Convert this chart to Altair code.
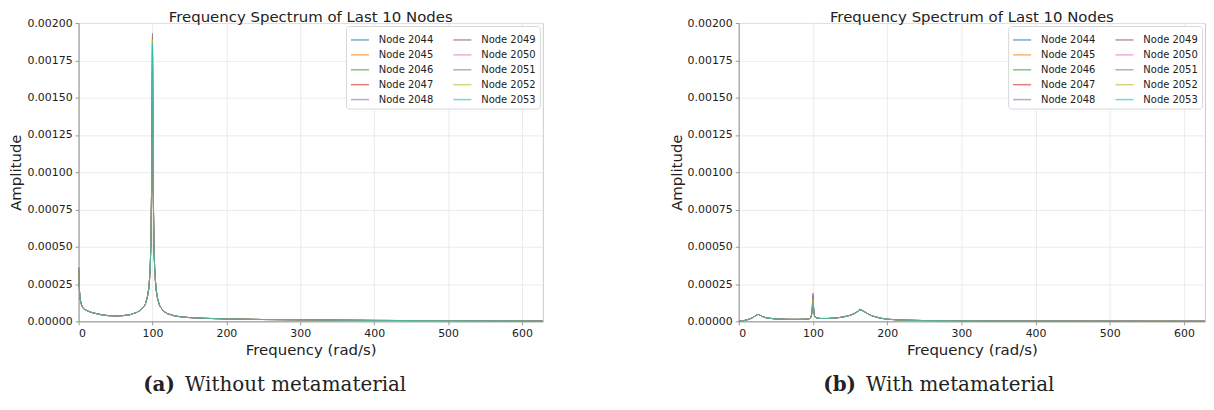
import altair as alt
import pandas as pd

# ---------------- data ----------------
nodes = ["Node 2044", "Node 2045", "Node 2046", "Node 2047", "Node 2048",
         "Node 2049", "Node 2050", "Node 2051", "Node 2052", "Node 2053"]
node_colors = ["#1f77b4", "#ff7f0e", "#2ca02c", "#d62728", "#9467bd",
               "#8c564b", "#e377c2", "#7f7f7f", "#bcbd22", "#17becf"]

x_ticks = [0, 100, 200, 300, 400, 500, 600]
y_ticks = [0.0, 0.00025, 0.0005, 0.00075, 0.001, 0.00125, 0.0015, 0.00175, 0.002]

# (a) without metamaterial: shared spectrum, per-node value at the 100 rad/s peak
freq_a = [0, 1, 2, 3, 4, 6, 8, 12, 16, 20, 30, 40, 50, 60, 70, 80, 85, 90, 93, 95,
          96, 97, 98, 99, 100, 101, 102, 103, 104, 105, 107, 110, 115, 120, 130,
          140, 150, 170, 200, 250, 300, 350, 400, 450, 500, 550, 600, 628]
amp_a = [0.00036, 0.00022, 0.00015, 0.00013, 0.00011, 0.000088, 0.00008, 0.00007,
         0.000062, 0.000056, 0.000045, 0.000038, 0.000036, 0.000038, 0.000045,
         0.000062, 0.00008, 0.00011, 0.00016, 0.00022, 0.00028, 0.00037, 0.00055,
         0.00098, 0.0019, 0.0009, 0.0005, 0.00035, 0.00027, 0.00021, 0.00015,
         0.0001, 0.000068, 0.000052, 0.000036, 0.000029, 0.000025, 0.00002,
         0.000016, 0.000012, 0.00001, 0.000008, 0.000006, 0.000005, 0.000004,
         0.000003, 0.0000025, 0.000002]
peak_a = [0.00188, 0.00189, 0.00187, 0.0019, 0.00191, 0.00193, 0.00192, 0.00191,
          0.00189, 0.00186]

# (b) with metamaterial
freq_b = [0, 5, 10, 15, 20, 23, 26, 29, 32, 36, 40, 50, 60, 70, 80, 90, 95, 97, 98,
          99, 100, 101, 102, 103, 105, 110, 120, 130, 140, 150, 155, 160, 163, 166,
          170, 175, 180, 190, 200, 220, 250, 300, 350, 400, 500, 628]
amp_b = [0.0, 0.000003, 0.000008, 0.000016, 0.000028, 0.000038, 0.000047, 0.00004,
         0.000032, 0.000025, 0.000021, 0.000016, 0.000014, 0.000013, 0.000013,
         0.000014, 0.000017, 0.000025, 0.00004, 0.00008, 0.00015, 0.00008, 0.00004,
         0.000028, 0.000022, 0.000019, 0.000019, 0.000022, 0.000028, 0.00004,
         0.00005, 0.000065, 0.000079, 0.000074, 0.000062, 0.000048, 0.000036,
         0.000022, 0.000014, 0.000008, 0.000005, 0.000003, 0.000002, 0.0000015,
         0.000001, 0.0000005]
peak_b = [0.00013, 0.00014, 0.000125, 0.00016, 0.00017, 0.00019, 0.000185, 0.000175,
          0.00015, 0.00012]
peak2_b = [0.000077, 0.000078, 0.000076, 0.00008, 0.000081, 0.000082, 0.00008,
           0.000083, 0.000079, 0.000076]

title_text = "Frequency Spectrum of Last 10 Nodes"
cap_a = ["(a)", "Without metamaterial"]
cap_b = ["(b)", "With metamaterial"]


def build(freqs, amps, peaks):
    rows = []
    for i, n in enumerate(nodes):
        for f, a in zip(freqs, amps):
            v = a
            for pf, pv in peaks:
                if f == pf:
                    v = pv[i]
            rows.append({"node": n, "freq": f, "amp": v})
    return pd.DataFrame(rows)


df_a = build(freq_a, amp_a, [(100, peak_a)])
df_b = build(freq_b, amp_b, [(100, peak_b), (163, peak2_b)])

FONT = "DejaVu Sans"


def panel(df, w, cap, cx1, cx2):
    base = alt.Chart(df).mark_line(strokeWidth=1, opacity=0.6, clip=True).encode(
        x=alt.X("freq:Q", title="Frequency (rad/s)",
                scale=alt.Scale(domain=[0, 628.3], nice=False, zero=False),
                axis=alt.Axis(values=x_ticks, format="d")),
        y=alt.Y("amp:Q", title="Amplitude",
                scale=alt.Scale(domain=[0, 0.002], nice=False),
                axis=alt.Axis(values=y_ticks, format=".5f")),
        color=alt.Color("node:N", sort=nodes,
                        scale=alt.Scale(domain=nodes, range=node_colors),
                        legend=alt.Legend(title=None, orient="top-right", offset=3,
                                          columns=2, columnPadding=16,
                                          rowPadding=0, symbolType="stroke",
                                          symbolSize=330, symbolStrokeWidth=1.5,
                                          symbolOpacity=0.6, labelFontSize=10,
                                          labelFont=FONT, labelOffset=9,
                                          labelColor="#222222",
                                          fillColor="white", strokeColor="#d8d8d8",
                                          cornerRadius=3, padding=4)),
        detail="node:N",
    )
    c1 = alt.Chart(pd.DataFrame({"t": [cap[0]]})).mark_text(
        font="DejaVu Serif", fontSize=20, fontWeight="bold", align="left",
        baseline="middle", color="#222222"
    ).encode(x=alt.value(cx1), y=alt.value(364), text="t:N")
    c2 = alt.Chart(pd.DataFrame({"t": [cap[1]]})).mark_text(
        font="DejaVu Serif", fontSize=20, align="left",
        baseline="middle", color="#222222"
    ).encode(x=alt.value(cx2), y=alt.value(364), text="t:N")
    return alt.layer(base, c1, c2).properties(
        width=w, height=300,
        title=alt.TitleParams(title_text, fontSize=15, font=FONT, fontWeight="normal",
                              color="#222222", offset=-8),
    )


left = panel(df_a, 467, cap_a, 65, 107)
right = panel(df_b, 469, cap_b, 85, 128)

chart = alt.hconcat(left, right, spacing=197, bounds="flush").resolve_legend(
    color="independent"
).properties(padding={"left": 0, "top": 0, "right": 0, "bottom": 0}).configure_view(
    stroke="#cccccc", strokeWidth=1
).configure_axis(
    labelFont=FONT, titleFont=FONT, labelFontSize=11, titleFontSize=15,
    titleFontWeight="normal", labelColor="#222222", titleColor="#222222",
    gridColor="#e6e6e6", gridWidth=0.8, domainColor="#999999", tickColor="#999999",
    tickSize=3.5, labelPadding=3,
).configure_axisY(titlePadding=3).configure_axisX(titlePadding=4)

chart.save("out.html", embed_options={"renderer": "svg", "actions": False})
